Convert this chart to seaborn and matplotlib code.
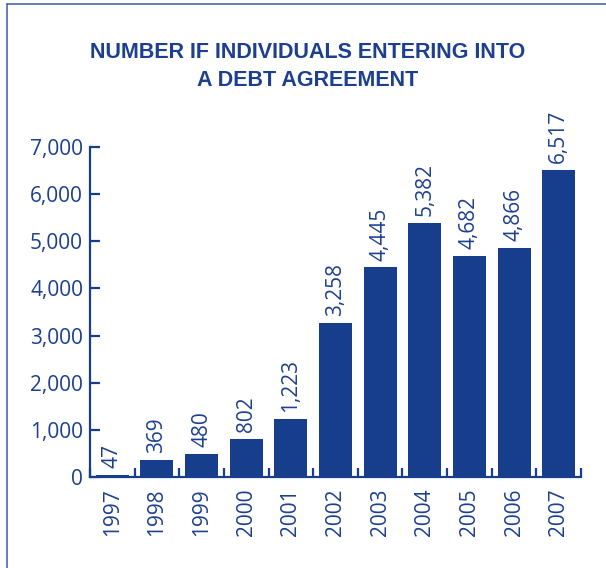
import numpy as np
import pandas as pd
import matplotlib
matplotlib.use("Agg")
import matplotlib.pyplot as plt
from matplotlib.lines import Line2D
from matplotlib.ticker import FuncFormatter, FixedLocator
import seaborn as sns

# Debt agreements per year
years = ["1997", "1998", "1999", "2000", "2001", "2002",
         "2003", "2004", "2005", "2006", "2007"]
agreements = [47, 369, 480, 802, 1223, 3258, 4445, 5382, 4682, 4866, 6517]
y_ticks = [0, 1000, 2000, 3000, 4000, 5000, 6000, 7000]

title_lines = ["NUMBER IF INDIVIDUALS ENTERING INTO", "A DEBT AGREEMENT"]

BLUE = "#173E8C"
TEXT = "#1C3F8F"
FRAME = "#3A5DA8"

sns.set_style("white")
plt.rcParams["font.family"] = ["Open Sans", "DejaVu Sans"]

df = pd.DataFrame({"year": years, "count": agreements})

fig = plt.figure(figsize=(6.06, 5.68), dpi=100)
ax = fig.add_axes([90 / 606, 1 - 477 / 568, (581 - 90) / 606, (477 - 147) / 568])

sns.barplot(data=df, x="year", y="count", color=BLUE, width=0.74,
            saturation=1, ax=ax, linewidth=0)

ax.set_xlim(-0.5, len(years) - 0.5)
ax.set_ylim(0, 7000)
ax.set_xlabel("")
ax.set_ylabel("")

# axes styling
for side in ("top", "right"):
    ax.spines[side].set_visible(False)
for side in ("left", "bottom"):
    ax.spines[side].set_color(BLUE)
    ax.spines[side].set_linewidth(1.6)

ax.yaxis.set_major_locator(FixedLocator(y_ticks))
ax.yaxis.set_major_formatter(FuncFormatter(lambda v, p: f"{int(v):,}"))
ax.tick_params(axis="y", direction="in", length=7.5, width=1.6, color=BLUE,
               labelcolor=TEXT, labelsize=15, pad=5, left=True)

ax.xaxis.set_minor_locator(FixedLocator(np.arange(-0.5, len(years), 1.0)))
ax.tick_params(axis="x", which="major", length=0, labelcolor=TEXT,
               labelsize=15, pad=8, labelrotation=90)
ax.tick_params(axis="x", which="minor", direction="in", length=6.5,
               width=1.6, color=BLUE, bottom=True)

# value labels above each bar
for i, v in enumerate(agreements):
    ax.annotate(f"{v:,}", xy=(i, v), xytext=(0, 5), textcoords="offset points",
                rotation=90, ha="center", va="bottom", fontsize=15,
                color=TEXT, annotation_clip=False)

# title
for text, base in zip(title_lines, (57.5, 85.5)):
    fig.text(308 / 606, 1 - base / 568, text, ha="center", va="baseline",
             fontsize=15.5, fontweight="bold", color=TEXT,
             family=["Liberation Sans", "DejaVu Sans"])

# panel frame along left and top edges
fig.add_artist(Line2D([6.5 / 606, 6.5 / 606], [0, 1 - 3.5 / 568],
                      transform=fig.transFigure, color=FRAME, linewidth=1.1))
fig.add_artist(Line2D([6.5 / 606, 1], [1 - 3.5 / 568, 1 - 3.5 / 568],
                      transform=fig.transFigure, color=FRAME, linewidth=1.1))

fig.savefig("out.png", dpi=100)
